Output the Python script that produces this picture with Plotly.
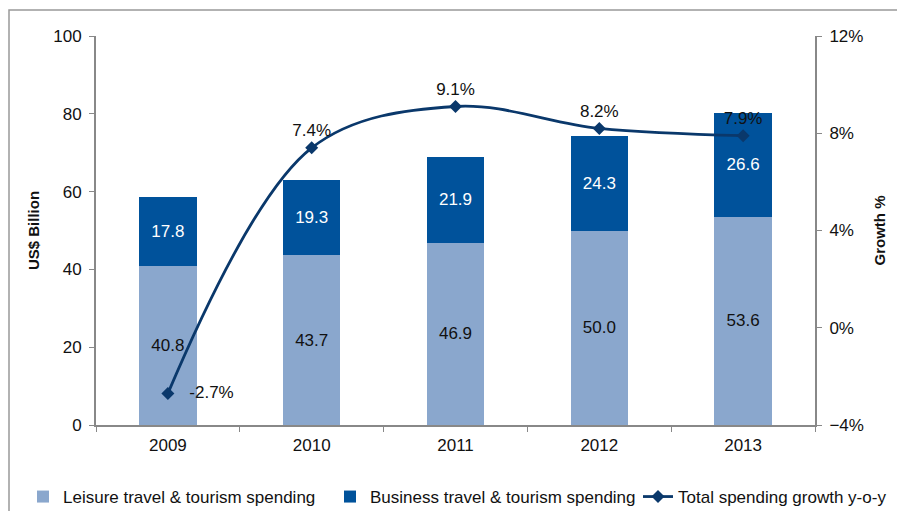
import plotly.graph_objects as go

years = ["2009", "2010", "2011", "2012", "2013"]
leisure = [40.8, 43.7, 46.9, 50.0, 53.6]
business = [17.8, 19.3, 21.9, 24.3, 26.6]
growth = [-2.7, 7.4, 9.1, 8.2, 7.9]
growth_labels = ["-2.7%", "7.4%", "9.1%", "8.2%", "7.9%"]

FONT = "Liberation Sans, Arial, sans-serif"
# browser body has an 8px margin; size figure so it fits the 905x519 window
OFF = 8
W, H = 905 - 2 * OFF, 519 - 2 * OFF
PL, PR, PT, PB = 96, 815, 36, 425          # plot area in screen pixels
L, R, T, B = PL - OFF, W + OFF - PR, PT - OFF, H + OFF - PB
pw, ph = PR - PL, PB - PT


def sx(px):
    return (px - PL) / pw


def sy(py):
    return (PB - py) / ph


positions = ["middle right", "top center", "top center", "top center", "top center"]
line_text = [("\u00a0\u00a0\u00a0" + t) if p == "middle right" else t
             for t, p in zip(growth_labels, positions)]

fig = go.Figure()
fig.add_trace(go.Bar(
    x=years, y=leisure, name="Leisure travel & tourism spending",
    marker=dict(color="#8aa7cd", line=dict(width=0)),
    text=[f"{v:.1f}" for v in leisure], textposition="inside",
    insidetextanchor="middle", textfont=dict(color="#111111", size=17, family=FONT),
    width=0.4, legend="legend",
))
fig.add_trace(go.Bar(
    x=years, y=business, name="Business travel & tourism spending",
    marker=dict(color="#00529b", line=dict(width=0)),
    text=[f"{v:.1f}" for v in business], textposition="inside",
    insidetextanchor="middle", textfont=dict(color="white", size=17, family=FONT),
    width=0.4, legend="legend2",
))
fig.add_trace(go.Scatter(
    x=years, y=growth, name="Total spending growth y-o-y", yaxis="y2",
    mode="lines+markers+text",
    line=dict(color="#0a386b", width=2.8, shape="spline", smoothing=1.0),
    marker=dict(symbol="diamond", size=10, color="#0a386b"),
    text=line_text,
    textposition=positions,
    textfont=dict(color="#111111", size=17, family=FONT),
    legend="legend3",
))

leg_common = dict(orientation="h", yanchor="middle", xanchor="left", y=sy(497),
                  font=dict(size=17, family=FONT), itemwidth=30,
                  bgcolor="rgba(0,0,0,0)")

fig.update_layout(
    width=W, height=H,
    margin=dict(l=L, r=R, t=T, b=B, autoexpand=False),
    barmode="stack",
    plot_bgcolor="white", paper_bgcolor="white",
    font=dict(family=FONT, size=17, color="#111111"),
    showlegend=True,
    legend=dict(x=sx(23), **leg_common),
    legend2=dict(x=sx(330), **leg_common),
    legend3=dict(x=sx(638), **leg_common),
    xaxis=dict(type="category", showline=True, linecolor="#888888", linewidth=2,
               ticks="outside", tickson="boundaries", ticklen=5, tickcolor="#888888",
               tickfont=dict(size=17), showgrid=False, ticklabelstandoff=4),
    yaxis=dict(range=[0, 100], dtick=20, showline=True, linecolor="#888888", linewidth=2,
               ticks="outside", ticklen=5, tickcolor="#888888", showgrid=False,
               zeroline=False, tickfont=dict(size=17), ticklabelstandoff=4,
               title=dict(text="<b>US$ Billion</b>", font=dict(size=15), standoff=10)),
    yaxis2=dict(range=[-4, 12], dtick=4, overlaying="y", side="right", showline=True,
                linecolor="#888888", linewidth=2, ticks="outside", ticklen=5,
                tickcolor="#888888", showgrid=False, zeroline=False, ticksuffix="%",
                tickfont=dict(size=17), ticklabelstandoff=4,
                title=dict(text="<b>Growth %</b>", font=dict(size=15), standoff=12)),
    shapes=[dict(type="rect", xref="paper", yref="paper",
                 x0=sx(9), x1=sx(930), y0=sy(540), y1=sy(10),
                 line=dict(color="#999999", width=1.5), layer="below")],
)

fig.write_html("out.html")
